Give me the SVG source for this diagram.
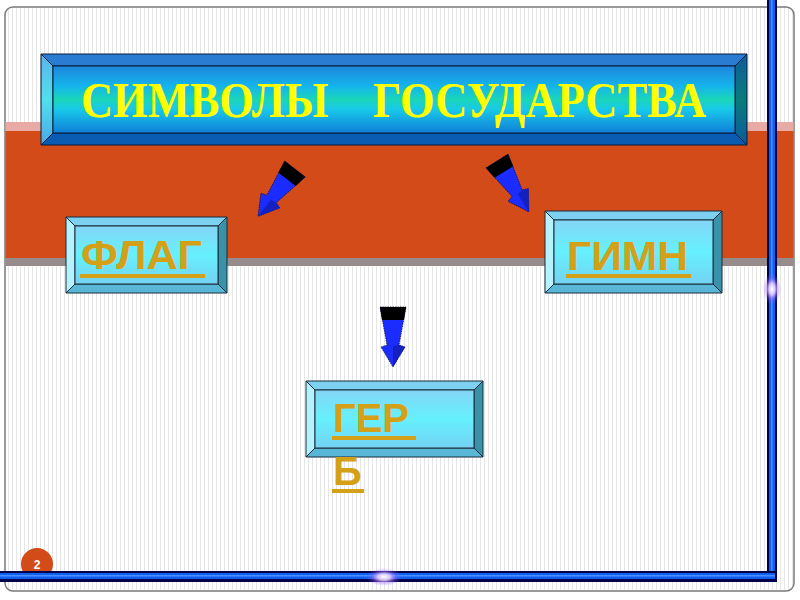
<svg xmlns="http://www.w3.org/2000/svg" width="800" height="600" viewBox="0 0 800 600">
<defs>
<pattern id="stripes" width="4" height="10" patternUnits="userSpaceOnUse">
<rect width="4" height="10" fill="#ffffff"/>
<rect x="0" width="1" height="10" fill="#e6e6e6"/>
</pattern>
<linearGradient id="titleFace" x1="0" y1="0" x2="0" y2="1">
<stop offset="0" stop-color="#1f86dc"/>
<stop offset="0.3" stop-color="#14b4ec"/>
<stop offset="0.5" stop-color="#1ad6b8"/>
<stop offset="0.65" stop-color="#18c8ea"/>
<stop offset="1" stop-color="#107ed6"/>
</linearGradient>
<linearGradient id="titleLeft" x1="0" y1="0" x2="0" y2="1">
<stop offset="0" stop-color="#5ab4ec"/>
<stop offset="0.5" stop-color="#50e0ec"/>
<stop offset="1" stop-color="#4aa8e6"/>
</linearGradient>
<linearGradient id="titleRight" x1="0" y1="0" x2="0" y2="1">
<stop offset="0" stop-color="#0e5c9c"/>
<stop offset="0.5" stop-color="#0a7c7c"/>
<stop offset="1" stop-color="#0c5a9a"/>
</linearGradient>
<linearGradient id="smallFace" x1="0" y1="0" x2="0" y2="1">
<stop offset="0" stop-color="#84d6f6"/>
<stop offset="0.5" stop-color="#66f0fe"/>
<stop offset="1" stop-color="#74d2f2"/>
</linearGradient>
<radialGradient id="glow">
<stop offset="0" stop-color="#ffffff" stop-opacity="1"/>
<stop offset="0.35" stop-color="#e8d0ff" stop-opacity="0.9"/>
<stop offset="0.7" stop-color="#a060ff" stop-opacity="0.35"/>
<stop offset="1" stop-color="#a060ff" stop-opacity="0"/>
</radialGradient>
<g id="arrow">
<polygon points="-13,0 13,0 6,38 12,40 0,60 -12,40 -6,38" fill="#1a2cff" stroke="#101040" stroke-width="0.8" stroke-dasharray="1.5 1"/>
<polygon points="0,39 6,38 12,40 0,60" fill="#1420c0"/>
<polygon points="-13,0 13,0 11,13 -11,13" fill="#000000"/>
</g>
<style>
.tbev{stroke:#0a1a3a;stroke-width:1}
.sbev{stroke:#1a2a38;stroke-width:1}
.title{font-family:"Liberation Serif","Times New Roman",serif;font-weight:bold;font-size:50px;fill:#ffff00}
.lbl{font-family:"Liberation Sans",Arial,sans-serif;font-weight:bold;font-size:40px;fill:#d4a017}
.ul{fill:#d4a017}
.num{font-family:"Liberation Sans",Arial,sans-serif;font-weight:bold;font-size:12px;fill:#ffffff}
</style>
</defs>

<rect x="0" y="0" width="800" height="600" fill="#ffffff"/>
<rect x="5" y="7" width="789" height="584" rx="8" fill="url(#stripes)" stroke="#7a7a7a" stroke-width="1.5"/>

<g id="band">
<rect x="5.5" y="122" width="788" height="9" fill="#e8aaa4"/>
<rect x="5.5" y="131" width="788" height="127" fill="#d34b19"/>
<rect x="5.5" y="258" width="788" height="8" fill="#978c8c"/>
</g>

<g id="title">
<polygon class="tbev" points="41,54 747,54 735,66 53,66" fill="#2a7cd2"/>
<polygon class="tbev" points="41,54 53,66 53,133 41,145" fill="url(#titleLeft)"/>
<polygon class="tbev" points="747,54 747,145 735,133 735,66" fill="url(#titleRight)"/>
<polygon class="tbev" points="41,145 53,133 735,133 747,145" fill="#0a5cb2"/>
<rect x="53" y="66" width="682" height="67" fill="url(#titleFace)" stroke="#0a1a3a" stroke-width="1"/>
<text class="title" x="81" y="117" textLength="625" lengthAdjust="spacingAndGlyphs" xml:space="preserve">СИМВОЛЫ    ГОСУДАРСТВА</text>
</g>

<g id="flag">
<polygon class="sbev" points="66,217 227,217 218,226 75,226" fill="#7cd0f0"/>
<polygon class="sbev" points="66,217 75,226 75,284 66,293" fill="#b4f2ff"/>
<polygon class="sbev" points="227,217 227,293 218,284 218,226" fill="#3a92aa"/>
<polygon class="sbev" points="66,293 75,284 218,284 227,293" fill="#58b6d6"/>
<rect x="75" y="226" width="143" height="58" fill="url(#smallFace)" stroke="#1a2a38" stroke-width="1"/>
<text class="lbl" x="81" y="269" textLength="121" lengthAdjust="spacingAndGlyphs">ФЛАГ</text>
<rect class="ul" x="80" y="274" width="125" height="4"/>
</g>

<g id="gimn">
<polygon class="sbev" points="545,211 722,211 713,220 554,220" fill="#7cd0f0"/>
<polygon class="sbev" points="545,211 554,220 554,284 545,293" fill="#b4f2ff"/>
<polygon class="sbev" points="722,211 722,293 713,284 713,220" fill="#3a92aa"/>
<polygon class="sbev" points="545,293 554,284 713,284 722,293" fill="#58b6d6"/>
<rect x="554" y="220" width="159" height="64" fill="url(#smallFace)" stroke="#1a2a38" stroke-width="1"/>
<text class="lbl" x="567" y="270" textLength="121" lengthAdjust="spacingAndGlyphs">ГИМН</text>
<rect class="ul" x="566" y="274" width="125" height="4"/>
</g>

<g id="gerb">
<polygon class="sbev" points="306,381 483,381 474,390 315,390" fill="#7cd0f0"/>
<polygon class="sbev" points="306,381 315,390 315,448 306,457" fill="#b4f2ff"/>
<polygon class="sbev" points="483,381 483,457 474,448 474,390" fill="#3a92aa"/>
<polygon class="sbev" points="306,457 315,448 474,448 483,457" fill="#58b6d6"/>
<rect x="315" y="390" width="159" height="58" fill="url(#smallFace)" stroke="#1a2a38" stroke-width="1"/>
<text class="lbl"><tspan x="333" y="432">ГЕР</tspan><tspan x="333" y="485">Б</tspan></text>
<rect class="ul" x="332" y="436" width="84" height="4"/>
<rect class="ul" x="332" y="489" width="32" height="4"/>
</g>

<g id="connectors">
<use href="#arrow" transform="translate(295,169) rotate(38)"/>
<use href="#arrow" transform="translate(497,161) rotate(-32)"/>
<use href="#arrow" transform="translate(393,307)"/>
</g>

<g id="frame">
<circle cx="37" cy="564" r="16" fill="#d34b19"/>
<text class="num" x="37" y="569" text-anchor="middle">2</text>
<rect x="767" y="0" width="10" height="582" fill="#00004a"/>
<rect x="769" y="0" width="6" height="582" fill="#1060f0"/>
<rect x="771" y="0" width="1.5" height="582" fill="#4a90ff"/>
<rect x="0" y="571" width="777" height="11" fill="#00004a"/>
<rect x="0" y="573" width="775" height="6" fill="#1060f0"/>
<rect x="0" y="575" width="775" height="1.5" fill="#4a90ff"/>
<ellipse cx="772" cy="289" rx="9" ry="16" fill="url(#glow)"/>
<ellipse cx="384" cy="577" rx="18" ry="9" fill="url(#glow)"/>
</g>
</svg>
